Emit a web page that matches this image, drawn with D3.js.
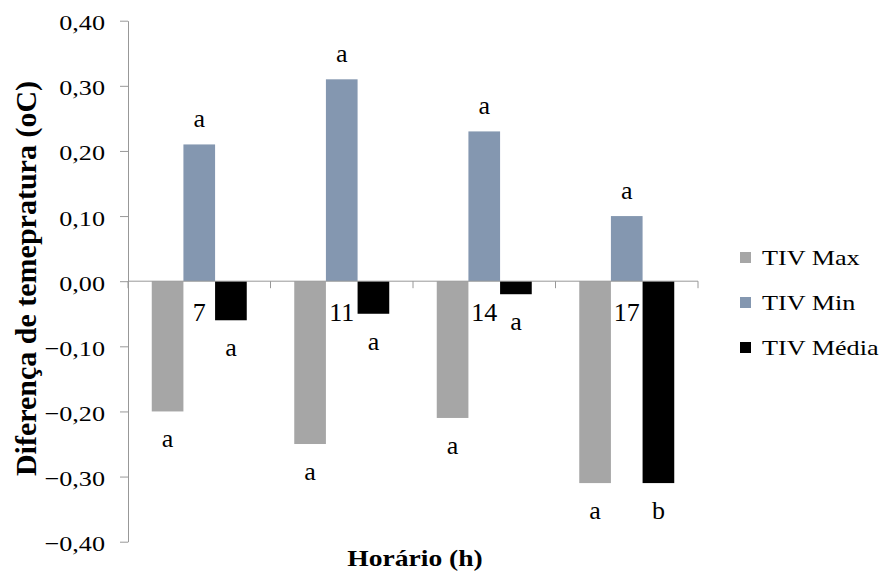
<!DOCTYPE html>
<html>
<head>
	<meta charset="UTF-8">
	<title>TIV - diferença de temperatura</title>
	<script src="https://cdn.jsdelivr.net/npm/d3@7/dist/d3.min.js"></script>
	<style>
		html, body {
			margin: 0;
			padding: 0;
			background: #fff;
		}
		svg text {
			font-family: "Liberation Serif", "Times New Roman", serif;
			fill: #000;
		}
	</style>
</head>
<body>
	<svg id="chart" width="882" height="577"></svg>
	<script>
		// data
		var hours = ["7", "11", "14", "17"];
		var seriesNames = ["TIV Max", "TIV Min", "TIV Média"];
		var tivMax = [-0.20, -0.25, -0.21, -0.31];
		var tivMin = [0.21, 0.31, 0.23, 0.10];
		var tivMedia = [-0.06, -0.05, -0.02, -0.31];
		var lettersMax = ["a", "a", "a", "a"];
		var lettersMin = ["a", "a", "a", "a"];
		var lettersMedia = ["a", "a", "a", "b"];
		var yTicks = [-0.40, -0.30, -0.20, -0.10, 0.00, 0.10, 0.20, 0.30, 0.40];

		var colors = ["#a6a6a6", "#8497b0", "#000000"];
		var series = [
			{ name: seriesNames[0], values: tivMax, letters: lettersMax },
			{ name: seriesNames[1], values: tivMin, letters: lettersMin },
			{ name: seriesNames[2], values: tivMedia, letters: lettersMedia }
		];

		var svg = d3.select("#chart");
		var axisColor = "#989898";
		var sx = 1.19; // horizontal stretch seen on the small texts

		var y = d3.scaleLinear().domain([-0.4, 0.4]).range([541.7, 20.7]);
		var x0 = d3.scaleBand().domain(hours).range([128, 698])
			.paddingInner(1 / 3).paddingOuter(1 / 6);
		var x1 = d3.scaleBand().domain(d3.range(series.length)).range([0, x0.bandwidth()]);

		var fmt = function(v) { return d3.format(".2f")(v).replace(".", ","); };

		// bars
		var groups = svg.append("g").selectAll("g")
			.data(series).join("g")
			.attr("fill", function(d, i) { return colors[i]; });

		groups.each(function(s, si) {
			d3.select(this).selectAll("rect")
				.data(s.values).join("rect")
				.attr("x", function(v, i) { return x0(hours[i]) + x1(si); })
				.attr("width", x1.bandwidth())
				.attr("y", function(v) { return y(Math.max(0, v)); })
				.attr("height", function(v) { return Math.abs(y(v) - y(0)); });
		});

		// y axis
		var yAxis = svg.append("g")
			.attr("transform", "translate(128,0)")
			.call(d3.axisLeft(y).tickValues(yTicks).tickFormat(fmt).tickSize(8).tickSizeOuter(0));
		yAxis.select(".domain").attr("stroke", axisColor);
		yAxis.selectAll(".tick line").attr("stroke", axisColor);
		yAxis.selectAll(".tick text")
			.attr("x", -23 / sx)
			.attr("dy", null)
			.attr("y", 9)
			.attr("transform", "scale(" + sx + ",1)")
			.style("font-size", "22px")
			.attr("fill", "#000");

		// x axis along zero with ticks on category borders
		var step = x0.step();
		var left = x0(hours[0]) - step * x0.paddingInner() / 2;
		var xAxis = svg.append("g").attr("stroke", axisColor);
		xAxis.append("line")
			.attr("x1", left).attr("x2", left + step * hours.length)
			.attr("y1", y(0)).attr("y2", y(0));
		xAxis.selectAll(".xt")
			.data(d3.range(hours.length + 1)).join("line")
			.attr("class", "xt")
			.attr("x1", function(i) { return left + i * step; })
			.attr("x2", function(i) { return left + i * step; })
			.attr("y1", y(0)).attr("y2", y(0) + 7);

		// category labels at the zero line
		svg.append("g").selectAll("text")
			.data(hours).join("text")
			.attr("x", function(h) { return x0(h) + x0.bandwidth() / 2; })
			.attr("y", y(0) + 40)
			.attr("text-anchor", "middle")
			.style("font-size", "26px")
			.text(function(h) { return h; });

		// significance letters
		series.forEach(function(s, si) {
			svg.append("g").selectAll("text")
				.data(s.values).join("text")
				.attr("x", function(v, i) { return x0(hours[i]) + x1(si) + x1.bandwidth() / 2; })
				.attr("y", function(v) { return v >= 0 ? y(v) - 17 : y(v) + 36; })
				.attr("text-anchor", "middle")
				.style("font-size", "26px")
				.text(function(v, i) { return s.letters[i]; });
		});

		// axis titles
		svg.append("text")
			.attr("transform", "translate(415,566) scale(1.2,1)")
			.attr("text-anchor", "middle")
			.style("font-size", "23px")
			.style("font-weight", "bold")
			.text("Horário (h)");

		svg.append("text")
			.attr("transform", "translate(36,278.5) rotate(-90)")
			.attr("text-anchor", "middle")
			.style("font-size", "30px")
			.style("font-weight", "bold")
			.text("Diferença de temepratura (oC)");

		// legend
		var legend = svg.append("g").selectAll("g")
			.data(series).join("g")
			.attr("transform", function(d, i) { return "translate(740," + (257.5 + i * 45) + ")"; });
		legend.append("rect")
			.attr("x", 0).attr("y", -5.5)
			.attr("width", 11).attr("height", 11)
			.attr("fill", function(d, i) { return colors[i]; });
		legend.append("text")
			.attr("transform", "translate(22,7.5) scale(" + sx + ",1)")
			.style("font-size", "22px")
			.text(function(d) { return d.name; });
	</script>
</body>
</html>
